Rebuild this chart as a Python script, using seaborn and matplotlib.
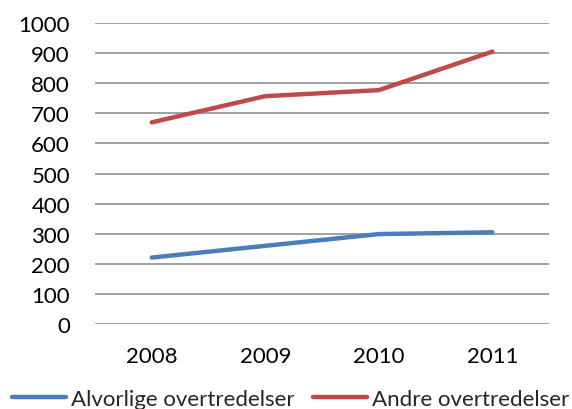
import seaborn as sns
import pandas as pd
import matplotlib.pyplot as plt

years = ['2008', '2009', '2010', '2011']
alvorlige = [221, 260, 299, 305]
andre = [670, 757, 777, 905]
series_names = ['Alvorlige overtredelser', 'Andre overtredelser']

df = pd.DataFrame({
    'year': years * 2,
    'value': alvorlige + andre,
    'serie': [series_names[0]] * 4 + [series_names[1]] * 4,
})

sns.set_style('white')
plt.rcParams['font.family'] = ['Lato', 'DejaVu Sans']

fig = plt.figure(figsize=(5.72, 4.10), dpi=100)
ax = fig.add_axes([0.166, 0.207, 0.794, 0.7345])

sns.lineplot(data=df, x='year', y='value', hue='serie', sort=False,
             palette=['#4A7EBB', '#BE4B48'], linewidth=3.2, ax=ax,
             solid_capstyle='round')

ax.set_ylim(0, 1000)
ax.set_xlim(-0.5, 3.5)
ax.set_yticks(range(0, 1001, 100))
ax.yaxis.grid(True, color='#868686', linewidth=1.1)
ax.set_axisbelow(True)
for s in ax.spines.values():
    s.set_visible(False)
ax.tick_params(axis='both', length=0, labelsize=16, colors='black')
ax.tick_params(axis='y', pad=18)
ax.tick_params(axis='x', pad=16)
ax.set_xlabel('')
ax.set_ylabel('')

handles, labels = ax.get_legend_handles_labels()
ax.get_legend().remove()
fig.legend(handles, labels, loc='center', bbox_to_anchor=(0.508, 0.024), ncol=2,
           frameon=False, fontsize=16, handlelength=2.45, handletextpad=0.22,
           columnspacing=0.8, borderaxespad=0)

fig.savefig('out.png', dpi=100)
